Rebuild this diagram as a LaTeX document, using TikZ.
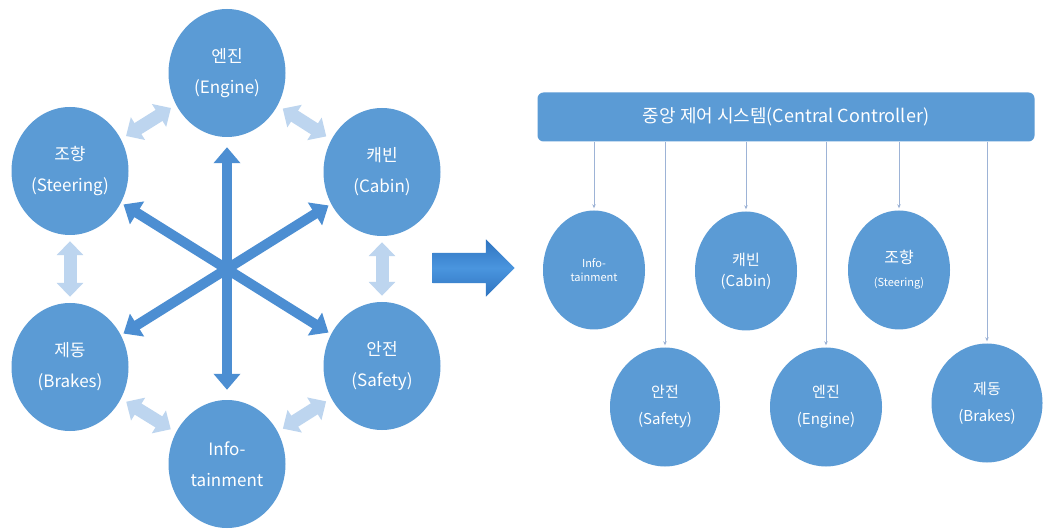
\documentclass[tikz,border=0pt]{standalone}
\usepackage{fontspec}
\setmainfont{Noto Sans CJK KR}
\usetikzlibrary{shapes.geometric,shapes.arrows,arrows.meta}
\definecolor{cblue}{HTML}{5B9BD5}
\definecolor{lblue}{HTML}{BDD5EF}
\definecolor{dblue}{HTML}{4C8ED2}
\definecolor{lineblue}{HTML}{9DB3D6}
\definecolor{arrdark}{HTML}{2F74C0}
\definecolor{arrlight}{HTML}{4A95DE}
\begin{document}
\begin{tikzpicture}[x=1pt,y=-1pt,
  bigc/.style={ellipse,fill=cblue,text=white,minimum width=117pt,minimum height=128pt,inner sep=0pt,align=center,font=\fontsize{17}{31}\selectfont},
  smallc/.style={ellipse,fill=cblue,text=white,minimum width=102pt,minimum height=119pt,inner sep=0pt,align=center,font=\fontsize{14}{24}\selectfont},
  lightarr/.style={draw=lblue,line width=13pt,{Triangle[width=26pt,length=14pt]}-{Triangle[width=26pt,length=14pt]}},
  darkarr/.style={draw=dblue,line width=10pt,{Triangle[width=26pt,length=16pt]}-{Triangle[width=26pt,length=16pt]}},
  conn/.style={draw=lineblue,line width=0.9pt,-{Stealth[length=4pt,width=3.5pt]}}
]
\useasboundingbox (0,0) rectangle (1047,529);
\fill[white] (0,0) rectangle (1047,529);

% left cluster
\node[bigc] (eng) at (227,73) {엔진\\(Engine)};
\node[bigc] (ste) at (70,171) {조향\\(Steering)};
\node[bigc] (cab) at (382,172) {캐빈\\(Cabin)};
\node[bigc] (bra) at (70,367) {제동\\(Brakes)};
\node[bigc] (saf) at (382,366) {안전\\(Safety)};
\node[bigc] (inf) at (227,464) {Info-\\tainment};

\draw[lightarr,shorten <=6pt,shorten >=6pt] (ste) -- (eng);
\draw[lightarr,shorten <=6pt,shorten >=6pt] (eng) -- (cab);
\draw[lightarr,shorten <=6pt,shorten >=6pt] (ste) -- (bra);
\draw[lightarr,shorten <=6pt,shorten >=6pt] (cab) -- (saf);
\draw[lightarr,shorten <=6pt,shorten >=6pt] (bra) -- (inf);
\draw[lightarr,shorten <=6pt,shorten >=6pt] (inf) -- (saf);

\draw[darkarr,shorten <=10pt,shorten >=10pt] (eng) -- (inf);
\draw[darkarr,shorten <=3pt,shorten >=3pt] (ste) -- (saf);
\draw[darkarr,shorten <=3pt,shorten >=3pt] (cab) -- (bra);

% big arrow
\node[single arrow,single arrow head extend=13.5pt,inner sep=15pt,minimum height=82pt,
  shading=axis,top color=arrdark,bottom color=arrdark,middle color=arrlight,shading angle=0] (big) at (466,268) {};

% right side
\node[rounded corners=6pt,fill=cblue,text=white,minimum width=497pt,minimum height=49pt,inner sep=0pt,
  font=\fontsize{18}{22}\selectfont] (bar) at (786,117) {중앙 제어 시스템(Central Controller)};

\node[smallc,font=\fontsize{11}{14}\selectfont] (rinf) at (594,270) {Info-\\tainment};
\node[smallc,font=\fontsize{15}{21}\selectfont] (rcab) at (746,271) {캐빈\\(Cabin)};
\node[smallc,font=\fontsize{16}{23}\selectfont] (rste) at (899,270) {조향\\{\fontsize{11}{12}\selectfont(Steering)}};
\node[smallc,minimum width=110pt,font=\fontsize{15}{27}\selectfont] (rsaf) at (665,407) {안전\\(Safety)};
\node[smallc,minimum width=112pt,font=\fontsize{15}{27}\selectfont] (reng) at (826,407) {엔진\\(Engine)};
\node[smallc,minimum width=111pt,font=\fontsize{15}{27}\selectfont] (rbra) at (987,403) {제동\\(Brakes)};

\foreach \t in {rinf,rcab,rste,rsaf,reng,rbra}{
  \draw[conn,shorten >=2pt] (bar.south -| \t.north) -- (\t.north);
}
\end{tikzpicture}
\end{document}
